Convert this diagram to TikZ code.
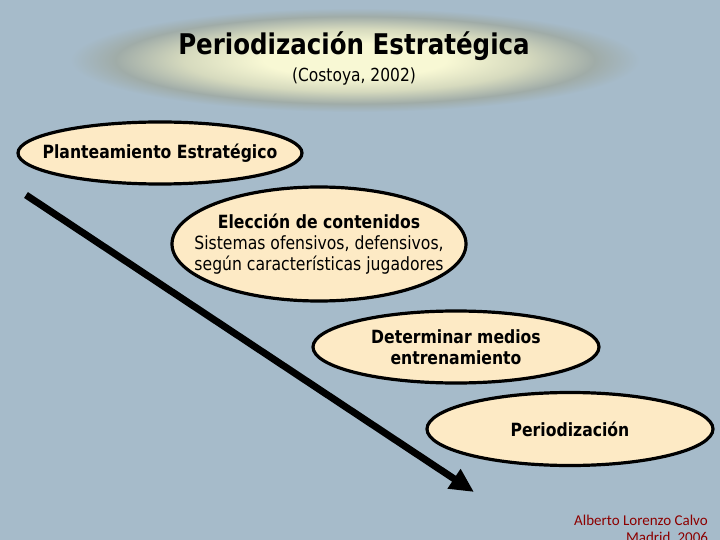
\documentclass[tikz,border=0pt]{standalone}
\usepackage{fontspec}
\setmainfont{DejaVu Sans}[FakeStretch=0.86]
\newfontfamily\footfont{Carlito}
\usetikzlibrary{shapes.geometric,arrows.meta}
\definecolor{bgblue}{RGB}{166,187,202}
\definecolor{peach}{RGB}{253,234,197}
\definecolor{gcen}{RGB}{248,248,212}
\definecolor{gmid}{RGB}{214,218,190}
\definecolor{gring}{RGB}{160,172,168}
\definecolor{footred}{RGB}{140,0,0}
\pgfdeclareradialshading{glow}{\pgfpoint{0bp}{0bp}}{color(0bp)=(gcen); color(8bp)=(gcen); color(15bp)=(gmid); color(21bp)=(gring); color(25bp)=(bgblue); color(50bp)=(bgblue)}
\begin{document}
\begin{tikzpicture}[x=1pt,y=-1pt,
  oval/.style={ellipse,draw,line width=3.2pt,fill=peach,inner sep=0pt},
  ovaltext/.style={align=center,inner sep=0pt,font=\bfseries\fontsize{18.2}{21}\selectfont},
  foot/.style={text=footred,font=\footfont\fontsize{15}{17}\selectfont},
  bigarrow/.style={line width=7pt,-{Triangle[length=24pt,width=22pt]}}]
\useasboundingbox (0,0) rectangle (720,540);
\fill[bgblue] (0,0) rectangle (720,540);
\shade[shading=glow] (355,60) ellipse (285 and 52);

\node[font=\bfseries\fontsize{28.5}{32}\selectfont] (t1) at (354,46) {Periodización Estratégica};
\node[font=\fontsize{18}{20}\selectfont] (t2) at (354,77) {(Costoya, 2002)};

\coordinate (s) at (26,195);
\coordinate (e) at (474,492);
\draw[bigarrow] (s) -- (e);

\node[oval,minimum width=284pt,minimum height=62pt,
  label={[ovaltext]center:Planteamiento Estratégico}] (e1) at (160,153) {};
\node[oval,minimum width=294pt,minimum height=114pt,
  label={[ovaltext]center:{Elección de contenidos\\{\mdseries Sistemas ofensivos, defensivos,}\\{\mdseries según características jugadores}}}] (e2) at (319,244) {};
\node[oval,minimum width=286pt,minimum height=72pt,
  label={[ovaltext]center:{Determinar medios\\entrenamiento}}] (e3) at (456,347) {};
\node[oval,minimum width=286pt,minimum height=73pt,
  label={[ovaltext]center:Periodización}] (e4) at (570,429) {};

\node[foot] (f1) at (641,520) {Alberto Lorenzo Calvo};
\node[foot] (f2) at (667,538) {Madrid, 2006};
\end{tikzpicture}
\end{document}
